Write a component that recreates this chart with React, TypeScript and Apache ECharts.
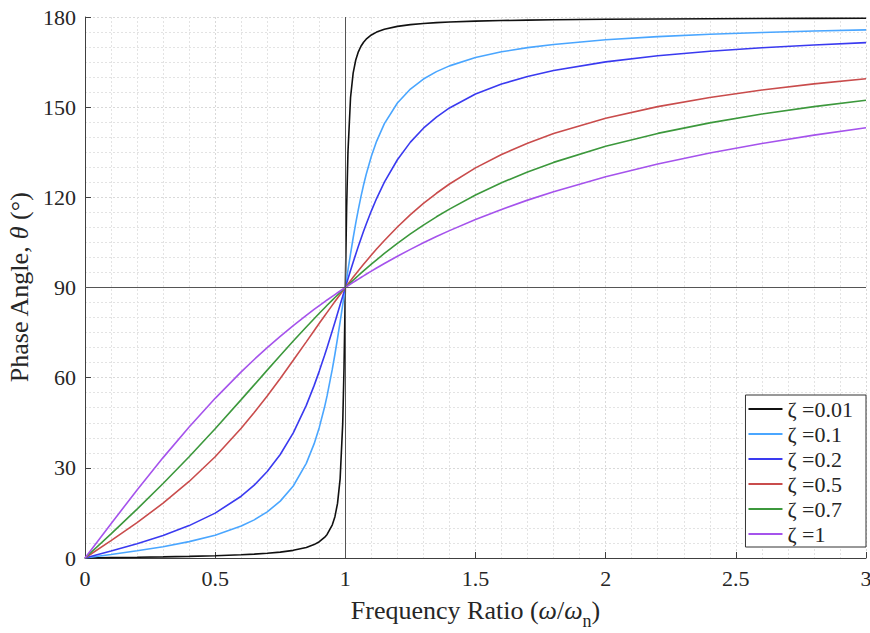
import React, { useEffect, useRef } from "react";
import * as echarts from "echarts";

// Frequency ratio samples (ω/ωn)
const ratios = [0, 0.1, 0.2, 0.3, 0.4, 0.5, 0.6, 0.65, 0.7, 0.75, 0.8, 0.85, 0.88, 0.9, 0.92, 0.93, 0.95, 0.96, 0.97, 0.98, 0.99, 0.995, 1, 1.005, 1.01, 1.02, 1.03, 1.04, 1.05, 1.06, 1.07, 1.08, 1.1, 1.12, 1.15, 1.2, 1.25, 1.3, 1.35, 1.4, 1.5, 1.6, 1.7, 1.8, 2.0, 2.2, 2.4, 2.6, 2.8, 3.0];

// Phase angle readings (degrees) for each damping ratio
const zeta001 = [0, 0.12, 0.24, 0.38, 0.55, 0.76, 1.07, 1.29, 1.57, 1.96, 2.55, 3.51, 4.46, 5.41, 6.83, 7.84, 11.03, 13.76, 18.17, 26.33, 44.86, 63.38, 90, 116.51, 134.86, 153.21, 161.31, 165.7, 168.42, 170.27, 171.6, 172.6, 174.02, 174.97, 175.92, 176.88, 177.46, 177.84, 178.12, 178.33, 178.63, 178.82, 178.97, 179.08, 179.24, 179.34, 179.42, 179.48, 179.53, 179.57];
const zeta01 = [0, 1.16, 2.39, 3.77, 5.44, 7.6, 10.62, 12.69, 15.35, 18.92, 23.96, 31.49, 37.96, 43.45, 50.14, 54.01, 62.84, 67.79, 73.06, 78.58, 84.26, 87.13, 90, 92.86, 95.68, 101.2, 106.47, 111.42, 116.02, 120.25, 124.1, 127.61, 133.67, 138.63, 144.5, 151.39, 156.04, 159.35, 161.83, 163.74, 166.5, 168.41, 169.8, 170.87, 172.41, 173.46, 174.24, 174.84, 175.32, 175.71];
const zeta02 = [0, 2.31, 4.76, 7.51, 10.78, 14.93, 20.56, 24.24, 28.77, 34.44, 41.63, 50.79, 57.35, 62.18, 67.35, 70.05, 75.61, 78.46, 81.34, 84.23, 87.12, 88.56, 90, 91.43, 92.85, 95.65, 98.41, 101.1, 103.71, 106.25, 108.7, 111.07, 115.51, 119.6, 125.03, 132.51, 138.37, 143.0, 146.71, 149.74, 154.36, 157.69, 160.21, 162.18, 165.07, 167.09, 168.6, 169.77, 170.7, 171.47];
const zeta05 = [0, 5.77, 11.77, 18.25, 25.46, 33.69, 43.15, 48.38, 53.93, 59.74, 65.77, 71.92, 75.62, 78.08, 80.52, 81.73, 84.14, 85.33, 86.51, 87.69, 88.85, 89.43, 90, 90.57, 91.14, 92.27, 93.38, 94.49, 95.58, 96.65, 97.71, 98.76, 100.81, 102.8, 105.66, 110.14, 114.23, 117.96, 121.35, 124.44, 129.81, 134.27, 138.03, 141.21, 146.31, 150.19, 153.24, 155.7, 157.74, 159.44];
const zeta07 = [0, 8.05, 16.26, 24.78, 33.69, 43.03, 52.7, 57.6, 62.51, 67.38, 72.18, 76.87, 79.62, 81.43, 83.2, 84.08, 85.81, 86.66, 87.51, 88.35, 89.18, 89.59, 90, 90.41, 90.81, 91.62, 92.42, 93.21, 93.99, 94.76, 95.52, 96.28, 97.77, 99.22, 101.33, 104.68, 107.82, 110.76, 113.52, 116.09, 120.76, 124.86, 128.46, 131.63, 136.97, 141.27, 144.78, 147.71, 150.18, 152.3];
const zeta1 = [0, 11.42, 22.62, 33.4, 43.6, 53.13, 61.93, 66.05, 70.0, 73.74, 77.32, 80.73, 82.7, 83.97, 85.23, 85.85, 87.06, 87.66, 88.26, 88.84, 89.42, 89.71, 90, 90.29, 90.57, 91.13, 91.69, 92.25, 92.79, 93.34, 93.87, 94.41, 95.45, 96.48, 97.98, 100.39, 102.68, 104.86, 106.94, 108.92, 112.62, 115.99, 119.07, 121.89, 126.87, 131.11, 134.76, 137.92, 140.69, 143.13];

const seriesNames = ["ζ =0.01", "ζ =0.1", "ζ =0.2", "ζ =0.5", "ζ =0.7", "ζ =1"];
const seriesValues = [zeta001, zeta01, zeta02, zeta05, zeta07, zeta1];
const seriesColors = ["#111111", "#4aa6ff", "#3a3af0", "#c94c4c", "#3c983c", "#a553ec"];

const FONT = "Liberation Serif";
const TXT = "#262626";

export default function App() {
  const ref = useRef<HTMLDivElement>(null);
  useEffect(() => {
    if (!ref.current) return;
    const chart = echarts.init(ref.current, null, { renderer: "svg" });
    const series: any[] = seriesNames.map((name, i) => ({
      name,
      type: "line",
      symbol: "none",
      data: ratios.map((r, k) => [r, seriesValues[i][k]]),
      lineStyle: { color: seriesColors[i], width: 1.6 },
      itemStyle: { color: seriesColors[i] },
      z: 3,
    }));
    series.push({
      name: "refs",
      type: "line",
      data: [],
      silent: true,
      z: 2,
      markLine: {
        silent: true,
        symbol: "none",
        label: { show: false },
        lineStyle: { color: "#555555", width: 1, type: "solid" },
        data: [{ xAxis: 1 }, { yAxis: 90 }],
      },
    });
    const tickLabel = {
      fontFamily: FONT,
      fontSize: 22,
      color: TXT,
      margin: 9,
      formatter: (v: number) => "{v|" + v + "}",
      rich: { v: { fontFamily: FONT, fontSize: 22, color: TXT } },
    };
    chart.setOption({
      animation: false,
      backgroundColor: "#ffffff",
      textStyle: { fontFamily: FONT },
      grid: { left: 85, right: 4, top: 17, bottom: 75, containLabel: false, outerBoundsMode: "none" },
      xAxis: {
        type: "value",
        min: 0,
        max: 3,
        interval: 0.5,
        name: "{a|Frequency Ratio (}{i|ω}{a|/}{i|ω}{s|n}{a|)}",
        nameLocation: "middle",
        nameGap: 32,
        nameTextStyle: {
          fontFamily: FONT,
          rich: {
            a: { fontFamily: FONT, fontSize: 26, color: TXT },
            i: { fontFamily: FONT, fontSize: 26, fontStyle: "italic", color: TXT },
            s: { fontFamily: FONT, fontSize: 18, color: TXT, padding: [22, 0, 0, 0] },
          },
        },
        axisLine: { show: true, lineStyle: { color: "#404040", width: 1 } },
        axisTick: { show: true, inside: true, length: 6, lineStyle: { color: "#404040" } },
        axisLabel: tickLabel,
        splitLine: { show: true, lineStyle: { color: "#d9d9d9", type: [2, 2], width: 1 } },
        minorTick: { show: false, splitNumber: 5 },
        minorSplitLine: { show: true, lineStyle: { color: "#e3e3e3", type: [2, 2], width: 1 } },
      },
      yAxis: {
        type: "value",
        min: 0,
        max: 180,
        interval: 30,
        name: "{a|Phase Angle, }{i|θ}{a| (°)}",
        nameLocation: "middle",
        nameGap: 48,
        nameTextStyle: {
          fontFamily: FONT,
          rich: {
            a: { fontFamily: FONT, fontSize: 26, color: TXT },
            i: { fontFamily: FONT, fontSize: 26, fontStyle: "italic", color: TXT },
          },
        },
        axisLine: { show: true, lineStyle: { color: "#404040", width: 1 } },
        axisTick: { show: true, inside: true, length: 6, lineStyle: { color: "#404040" } },
        axisLabel: tickLabel,
        splitLine: { show: true, lineStyle: { color: "#d9d9d9", type: [2, 2], width: 1 } },
        minorTick: { show: false, splitNumber: 6 },
        minorSplitLine: { show: true, lineStyle: { color: "#e3e3e3", type: [2, 2], width: 1 } },
      },
      legend: {
        data: seriesNames,
        orient: "vertical",
        right: 4,
        top: 395,
        padding: [3, 13, 2, 3],
        itemGap: 3,
        itemWidth: 34,
        itemHeight: 2,
        icon: "rect",
        backgroundColor: "#ffffff",
        borderColor: "#333333",
        borderWidth: 1,
        borderRadius: 0,
        formatter: (n: string) => "{v|" + n + "}",
        textStyle: {
          fontFamily: FONT,
          fontSize: 22,
          color: TXT,
          rich: { v: { fontFamily: FONT, fontSize: 22, color: TXT, lineHeight: 22 } },
        },
      },
      series,
    });
    return () => chart.dispose();
  }, []);
  return <div ref={ref} style={{ width: 870, height: 633, position: "absolute", left: 0, top: 0 }} />;
}
